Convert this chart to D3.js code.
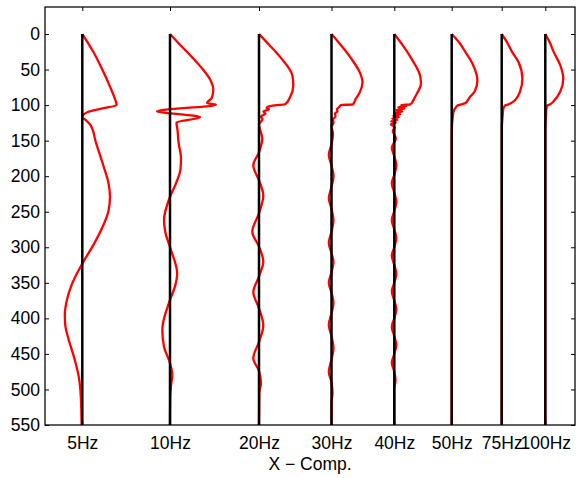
<!DOCTYPE html>
<html>
<head>
<meta charset="utf-8">
<script src="https://cdnjs.cloudflare.com/ajax/libs/d3/7.8.5/d3.min.js"></script>
<style>
  body { margin: 0; background: #fff; }
  svg { display: block; font-family: "Liberation Sans", Arial, sans-serif; }
</style>
</head>
<body>
<script>
// Frequency columns and where each trace sits along x
var freqLabels = ["5Hz", "10Hz", "20Hz", "30Hz", "40Hz", "50Hz", "75Hz", "100Hz"];
var offsets = [3.73, 12.5, 21.4, 28.65, 34.93, 40.67, 45.67, 50.03];
var depthTicks = [0, 50, 100, 150, 200, 250, 300, 350, 400, 450, 500, 550];

// [depth, x-component amplitude]
var trace5 = [[0,0],[25,1.1],[50,2.0],[75,2.8],[90,3.23],[100,3.43],[105,1.9],[110,0.5],[114,0.08],[117,0],
  [121,0.35],[128.5,0.84],[152,1.35],[185,2.1],[210,2.62],[229,2.77],[250,2.6],[269,2.1],[297,1.1],[323,0],
  [353,-1.07],[375,-1.55],[395,-1.75],[410,-1.7],[428,-1.4],[456,-0.8],[484,-0.33],[510,-0.15],[550,-0.07]];
var trace10 = [[0,0],[15,1.0],[34,2.3],[50,3.3],[65,4.05],[78,4.33],[90,4.17],[97,3.7],[99.5,4.6],[108.5,-1.3],
  [117,3.0],[124.5,0.65],[135,0.75],[152,0.85],[175,1.1],[190,1.05],[210,0.6],[229,0],[262,-0.6],[280,-0.45],
  [300,0],[337,0.72],[355,0.5],[374,0],[416,-0.77],[440,-0.6],[463,0],[480,0.23],[495,0.1],[515,0.02],[550,0]];
var trace20 = [[0,0],[15,1.0],[35,2.27],[58,3.33],[72,3.43],[89,3.1],[99,2.6],[100,1.77],[101.5,1.1],[104,0.77],
  [106,1.0],[109,0.45],[112,0.65],[116,0.2],[120,0.35],[127.5,0],[147,0.33],[166,0],[185,-0.57],[206,0],
  [227,0.43],[252,0],[278,-0.67],[299,0],[320,0.43],[341,0],[363,-0.57],[386,0],[410,0.43],[433,0],
  [456,-0.57],[474,0],[491,0.2],[505,0.03],[550,0]];
var trace30 = [[0,0],[15,0.9],[35,2.0],[54,2.83],[68,3.1],[82,2.83],[92,2.4],[99,2.15],[100,0.95],[103,0.75],
  [106,0.55],[109,0.6],[112,0.35],[116,0.4],[120,0.15],[125,0.2],[130,0],[140,0.15],[155,0],[170,-0.27],
  [185,0],[200,0.2],[215,0],[231,-0.27],[246,0],[262,0.2],[278,0],[294,-0.27],[308,0],[321,0.2],[335,0],
  [350,-0.27],[364,0],[378,0.2],[393,0],[409,-0.27],[425,0],[442,0.2],[458,0],[475,-0.27],[490,0],
  [505,0.1],[520,0],[550,0]];
var trace40 = [[0,0],[15,0.8],[35,1.73],[58,2.57],[70,2.67],[82,2.33],[92,1.95],[97,1.75],[99,1.6],[100,0.7],
  [101.5,1.2],[103,0.4],[105,1.0],[107,0.2],[109,0.8],[111,0.1],[113,0.6],[115,-0.1],[117,0.45],[119,-0.2],
  [121,0.3],[123,-0.3],[125,0.15],[127,-0.35],[131,0.05],[136,-0.15],[147,0.15],[160,-0.25],[172,0],[185,0.2],
  [198,0],[210,-0.25],[223,0],[236,0.2],[249,0],[262,-0.25],[275,0],[287,0.2],[300,0],[312,-0.25],[325,0],
  [337,0.2],[350,0],[362,-0.25],[375,0],[387,0.2],[400,0],[412,-0.25],[425,0],[437,0.2],[450,0],
  [462,-0.25],[475,0],[487,0.12],[500,0],[550,0]];
var trace50 = [[0,0],[12,0.75],[25.5,1.38],[40,2.02],[58,2.5],[65,2.57],[80,2.33],[89,1.8],[97.5,1.33],
  [100,0.67],[103,0.42],[110,0.17],[118,0.1],[128,0.03],[150,0],[550,0]];
var trace75 = [[0,0],[12,0.55],[25.5,1.05],[40,1.7],[63,2.07],[80,1.85],[95,1.17],[99,0.67],[100.5,0.33],
  [106,0.15],[114,0.1],[130,0.02],[550,0]];
var trace100 = [[0,0],[12,0.45],[25.5,0.85],[44,1.5],[63,1.8],[81,1.5],[95,0.8],[99,0.47],[100.5,0.2],
  [106,0.1],[114,0.07],[130,0],[550,0]];

var traces = [trace5, trace10, trace20, trace30, trace40, trace50, trace75, trace100];

var width = 582, height = 478;
var plotLeft = 45, plotRight = 575, plotTop = 7, plotBottom = 425;

var x = d3.scaleLinear().domain([0, 53]).range([plotLeft, plotRight]);
var y = d3.scaleLinear().domain([-38, 550]).range([plotTop, plotBottom]);

var svg = d3.select("body").append("svg")
  .attr("width", width)
  .attr("height", height);

// Red profiles first, so the black reference lines sit on top
var line = d3.line().curve(d3.curveMonotoneY);

svg.selectAll("path.trace")
  .data(traces)
  .enter()
  .append("path")
  .attr("class", "trace")
  .attr("fill", "none")
  .attr("stroke", "#ff0000")
  .attr("stroke-width", 2.3)
  .attr("stroke-linejoin", "round")
  .attr("d", function(d, i) {
    return line(d.map(function(p) { return [x(offsets[i] + p[1]), y(p[0])]; }));
  });

svg.selectAll("line.zero")
  .data(offsets)
  .enter()
  .append("line")
  .attr("class", "zero")
  .attr("x1", function(d) { return x(d); })
  .attr("x2", function(d) { return x(d); })
  .attr("y1", y(0))
  .attr("y2", y(550))
  .attr("stroke", "#000")
  .attr("stroke-width", 2.5);

// Axes with inward ticks on all four sides
function style(g) {
  g.attr("font-family", null).attr("font-size", null);
  g.select(".domain").remove();
  g.selectAll(".tick line").attr("stroke", "#000").attr("stroke-width", 1);
  g.selectAll(".tick text").attr("fill", "#000").style("font-size", "17.5px");
}

svg.append("g")
  .attr("transform", "translate(" + plotLeft + ",0)")
  .call(d3.axisLeft(y).tickValues(depthTicks).tickSizeInner(-4).tickSizeOuter(0).tickPadding(5))
  .call(style);

svg.append("g")
  .attr("transform", "translate(" + plotRight + ",0)")
  .call(d3.axisRight(y).tickValues(depthTicks).tickSizeInner(-4).tickSizeOuter(0).tickFormat(""))
  .call(style);

svg.append("g")
  .attr("transform", "translate(0," + plotTop + ")")
  .call(d3.axisTop(x).tickValues(offsets).tickSizeInner(-4).tickSizeOuter(0).tickFormat(""))
  .call(style);

svg.append("g")
  .attr("transform", "translate(0," + plotBottom + ")")
  .call(d3.axisBottom(x).tickValues(offsets).tickSizeInner(-4).tickSizeOuter(0).tickPadding(12)
    .tickFormat(function(d, i) { return freqLabels[i]; }))
  .call(style);

// Frame
svg.append("rect")
  .attr("x", plotLeft)
  .attr("y", plotTop)
  .attr("width", plotRight - plotLeft)
  .attr("height", plotBottom - plotTop)
  .attr("fill", "none")
  .attr("stroke", "#000")
  .attr("stroke-width", 1.25);

svg.append("text")
  .attr("x", (plotLeft + plotRight) / 2)
  .attr("y", 470)
  .attr("text-anchor", "middle")
  .style("font-size", "17.5px")
  .text("X \u2212 Comp.");
</script>
</body>
</html>
